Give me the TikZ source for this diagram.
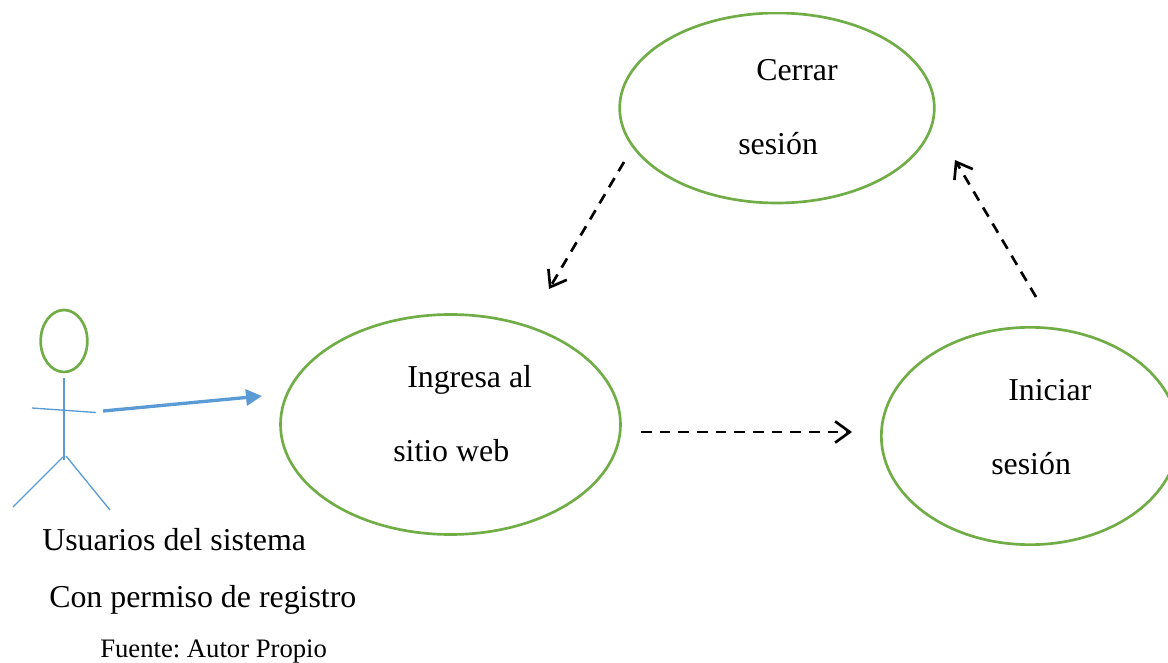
\documentclass[tikz,border=0pt]{standalone}
\usepackage{fontspec}
\setmainfont{Liberation Serif}
\usetikzlibrary{arrows.meta,shapes.geometric}
\definecolor{ugreen}{HTML}{70AD47}
\definecolor{ublue}{HTML}{5B9BD5}
\frenchspacing
\tikzset{
  x=0.75pt,y=-0.75pt,
  usecase/.style={draw=ugreen,line width=2pt,ellipse,inner sep=0pt,outer sep=0pt},
  lbl/.style={anchor=base west,inner sep=0pt,font=\fontsize{23.9pt}{26pt}\selectfont,text=black},
  small/.style={lbl,font=\fontsize{20pt}{22pt}\selectfont},
  stick/.style={draw=ublue,line width=1pt},
  flow/.style={draw=black,line width=2pt,dash pattern=on 8pt off 6pt,-{Straight Barb[length=11pt,width=16pt,line width=2pt]}},
  assoc/.style={draw=ublue,line width=2.5pt,-{Triangle[length=12pt,width=12pt]}}
}
\begin{document}
\begin{tikzpicture}
\useasboundingbox (0,0) rectangle (1168,663);
\clip (0,13) rectangle (1168,663);
\node[usecase,minimum width=236pt,minimum height=142.5pt] (cerrar) at (777,108) {};
\node[usecase,minimum width=255pt,minimum height=165pt] (ingresa) at (450.5,424.5) {};
\node[usecase,minimum width=223pt,minimum height=163pt] (iniciar) at (1030,436) {};
\node[usecase,minimum width=35pt,minimum height=46.5pt] (head) at (64,341) {};
\node[lbl] (t1) at (756,81) {Cerrar};
\node[lbl] (t2) at (738,155) {sesión};
\node[lbl] (t3) at (407,387) {Ingresa al};
\node[lbl] (t4) at (393,461) {sitio web};
\node[lbl] (t5) at (1008,400) {Iniciar};
\node[lbl] (t6) at (991,474) {sesión};
\node[lbl] (t7) at (42,550) {Usuarios del sistema};
\node[lbl] (t8) at (49,607) {Con permiso de registro};
\node[small] (t9) at (100,657.5) {Fuente: Autor Propio};
\coordinate (neck) at (64,378);
\coordinate (hip) at (64,460);
\coordinate (armL) at (32,408);
\coordinate (armR) at (96,412.5);
\coordinate (legLa) at (63,457);
\coordinate (legLb) at (13,507);
\coordinate (legRa) at (66,456);
\coordinate (legRb) at (110,510);
\draw[stick] (neck) -- (hip);
\draw[stick] (armL) -- (armR);
\draw[stick] (legLa) -- (legLb);
\draw[stick] (legRa) -- (legRb);
\coordinate (a1) at (103,411);
\coordinate (a2) at (262,396);
\draw[assoc] (a1) -- (a2);
\coordinate (b1) at (641,432);
\coordinate (b2) at (852,432);
\draw[flow] (b1) -- (b2);
\coordinate (c1) at (1036,297);
\coordinate (c2) at (955,160);
\draw[flow] (c1) -- (c2);
\coordinate (d1) at (624,162);
\coordinate (d2) at (549,289);
\draw[flow] (d1) -- (d2);
\end{tikzpicture}
\end{document}
